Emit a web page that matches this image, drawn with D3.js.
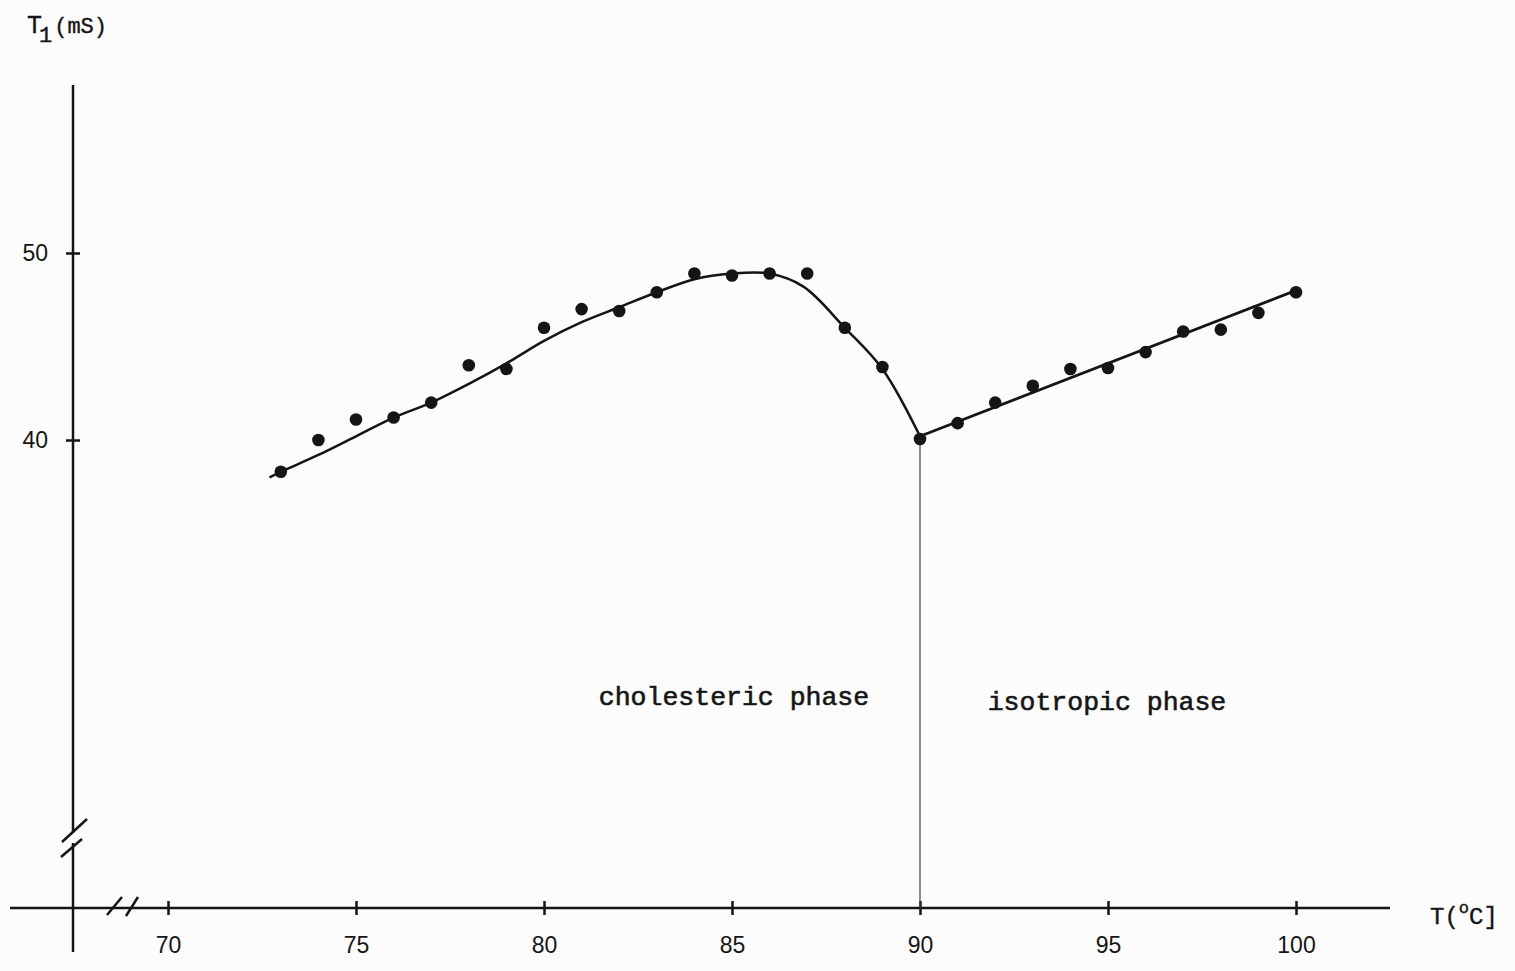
<!DOCTYPE html>
<html>
<head>
<meta charset="utf-8">
<script src="https://cdn.jsdelivr.net/npm/d3@7"></script>
<style>
  body { margin: 0; background: #fcfcfc; }
  svg { display: block; }
</style>
</head>
<body>
<script>
// measured points: temperature (C) and T1 (ms)
var temps = [73, 74, 75, 76, 77, 78, 79, 80, 81, 82, 83, 84, 85, 86, 87, 88, 89,
             90, 91, 92, 93, 94, 95, 96, 97, 98, 99, 100];
var t1 = [38.3, 40.0, 41.1, 41.2, 42.0, 44.0, 43.8, 46.0, 47.0, 46.9, 47.9, 48.9, 48.8, 48.9, 48.9, 46.0, 43.9,
          40.05, 40.9, 42.0, 42.9, 43.8, 43.85, 44.7, 45.8, 45.9, 46.8, 47.9];

// hand drawn fit, cholesteric side
var fitTempsChol = [72.7, 73, 74, 75, 76, 77, 78, 79, 80, 81, 82, 83, 84, 85, 86, 86.9, 88, 89, 90];
var fitChol = [38.0, 38.3, 39.2, 40.2, 41.2, 42.0, 43.0, 44.1, 45.3, 46.3, 47.1, 47.9, 48.6, 48.9, 48.9, 48.2, 46.0, 43.8, 40.2];
// isotropic side
var fitTempsIso = [90, 100];
var fitIso = [40.2, 48.0];

var xTicks = [70, 75, 80, 85, 90, 95, 100];
var yTicks = [40, 50];
var phaseLabels = ["cholesteric phase", "isotropic phase"];
var phaseAt = [85, 95];
var transitionTemp = 90;

var ink = "#151515";
var mono = "'Liberation Mono', 'DejaVu Sans Mono', monospace";
var sans = "'Liberation Sans', Arial, sans-serif";

var svg = d3.select("body")
    .append("svg")
    .attr("width", 1515)
    .attr("height", 971);

var x = d3.scaleLinear().domain([70, 100]).range([168, 1296]);
var y = d3.scaleLinear().domain([40, 50]).range([440, 253]);

var axisY = 908;   // where the x axis sits
var axisX = 73;    // where the y axis sits

// x axis line
svg.append("line")
    .attr("x1", 10).attr("y1", axisY)
    .attr("x2", 1390).attr("y2", axisY)
    .attr("stroke", ink).attr("stroke-width", 2.5);

// y axis line
svg.append("line")
    .attr("x1", axisX).attr("y1", 85)
    .attr("x2", axisX).attr("y2", 952)
    .attr("stroke", ink).attr("stroke-width", 2.5);

// x ticks
var gx = svg.append("g")
    .attr("transform", "translate(0," + axisY + ")")
    .call(d3.axisBottom(x).tickValues(xTicks).tickSize(7).tickPadding(22));
gx.select(".domain").remove();
gx.selectAll(".tick line")
    .attr("y1", -7).attr("y2", 7)
    .attr("stroke", ink).attr("stroke-width", 2.5);
gx.selectAll(".tick text")
    .attr("font-family", sans)
    .attr("font-size", "23px")
    .attr("fill", ink);

// y ticks
var gy = svg.append("g")
    .attr("transform", "translate(" + axisX + ",0)")
    .call(d3.axisLeft(y).tickValues(yTicks).tickSize(7).tickPadding(18));
gy.select(".domain").remove();
gy.selectAll(".tick line")
    .attr("x1", -7).attr("x2", 7)
    .attr("stroke", ink).attr("stroke-width", 2.5);
gy.selectAll(".tick text")
    .attr("font-family", sans)
    .attr("font-size", "23px")
    .attr("fill", ink);

// axis break marks
var breaks = [
    [62, 842, 87, 819], [61, 857, 82, 839],
    [107, 915, 122, 897], [126, 916, 138, 897]
];
svg.append("rect")
    .attr("x", axisX - 3).attr("y", 833).attr("width", 6).attr("height", 10)
    .attr("fill", "#fcfcfc");
breaks.forEach(function(b) {
    svg.append("line")
        .attr("x1", b[0]).attr("y1", b[1])
        .attr("x2", b[2]).attr("y2", b[3])
        .attr("stroke", ink).attr("stroke-width", 2.5);
});

// phase transition line
svg.append("line")
    .attr("x1", x(transitionTemp)).attr("y1", y(40.2))
    .attr("x2", x(transitionTemp)).attr("y2", axisY)
    .attr("stroke", "#444").attr("stroke-width", 1.2);

// fitted curves
var line = d3.line()
    .x(function(d) { return x(d[0]); })
    .y(function(d) { return y(d[1]); })
    .curve(d3.curveCatmullRom.alpha(0.5));

svg.append("path")
    .attr("d", line(d3.zip(fitTempsChol, fitChol)))
    .attr("fill", "none").attr("stroke", ink).attr("stroke-width", 2.5);

svg.append("path")
    .attr("d", line(d3.zip(fitTempsIso, fitIso)))
    .attr("fill", "none").attr("stroke", ink).attr("stroke-width", 2.8);

// data points
svg.selectAll("circle.pt")
    .data(d3.zip(temps, t1)).enter()
    .append("circle")
    .attr("class", "pt")
    .attr("cx", function(d) { return x(d[0]); })
    .attr("cy", function(d) { return y(d[1]); })
    .attr("r", 6.3)
    .attr("fill", ink);

// phase labels
svg.selectAll("text.phase")
    .data(phaseLabels).enter()
    .append("text")
    .attr("class", "phase")
    .text(function(d) { return d; })
    .attr("x", function(d, i) { return i === 0 ? 734 : 1107; })
    .attr("y", function(d, i) { return i === 0 ? 705 : 710; })
    .attr("text-anchor", "middle")
    .attr("font-family", mono)
    .attr("font-size", "26.5px")
    .attr("stroke", ink)
    .attr("stroke-width", 0.6)
    .attr("fill", ink);

// y axis title T1(mS)
var yt = svg.append("text")
    .attr("x", 30).attr("y", 33)
    .attr("font-family", mono)
    .attr("font-size", "25px")
    .attr("stroke", ink).attr("stroke-width", 0.4)
    .attr("fill", ink);
yt.append("tspan").attr("dx", -3).text("T");
yt.append("tspan").attr("dy", 9).attr("dx", -3).attr("font-size", "22px").text("1");
yt.append("tspan").attr("dy", -9).attr("dx", 2).attr("font-size", "22px").text("(mS)");

// x axis title T(°C]
var xt = svg.append("text")
    .attr("x", 1430).attr("y", 924)
    .attr("font-family", mono)
    .attr("font-size", "24px")
    .attr("stroke", ink).attr("stroke-width", 0.4)
    .attr("fill", ink);
xt.append("tspan").text("T(");
xt.append("tspan").attr("dy", -11).attr("font-size", "17px").text("o");
xt.append("tspan").attr("dy", 11).text("C]");
</script>
</body>
</html>
